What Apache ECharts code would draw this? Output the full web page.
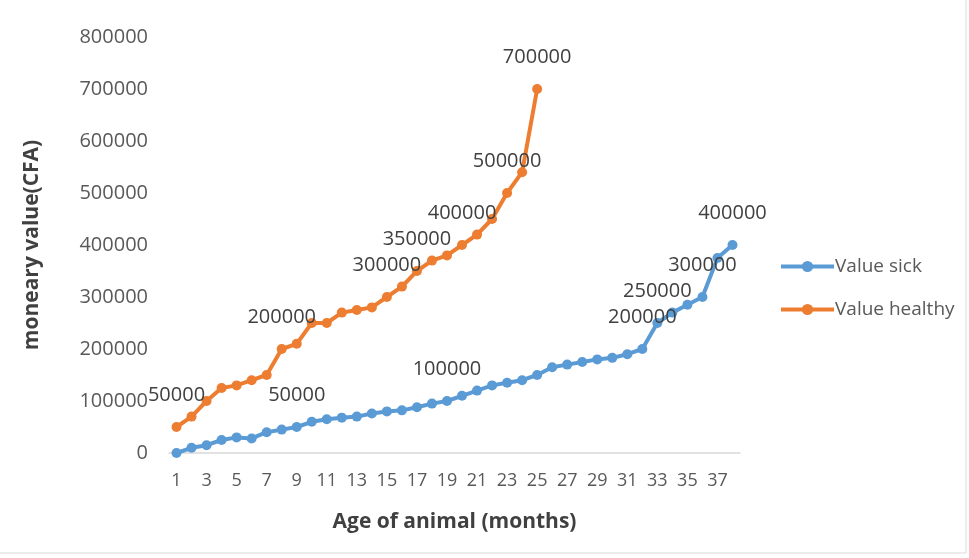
<!DOCTYPE html>
<html>
<head>
<meta charset="utf-8">
<script src="https://cdn.jsdelivr.net/npm/echarts@6/dist/echarts.min.js"></script>
<style>
html,body{margin:0;padding:0;background:#fff;}
#c{width:969px;height:558px;}
</style>
</head>
<body>
<div id="c"></div>
<script>
// Months 1..38
const months = [1,2,3,4,5,6,7,8,9,10,11,12,13,14,15,16,17,18,19,20,21,22,23,24,25,26,27,28,29,30,31,32,33,34,35,36,37,38];
const valueSick = [0,10000,15000,25000,30000,28000,40000,45000,50000,60000,65000,68000,70000,76000,80000,82000,88000,95000,100000,110000,120000,130000,135000,140000,150000,165000,170000,175000,180000,183000,190000,200000,250000,270000,285000,300000,375000,400000];
const valueHealthy = [50000,70000,100000,125000,130000,140000,150000,200000,210000,250000,250000,270000,275000,280000,300000,320000,350000,370000,380000,400000,420000,450000,500000,540000,700000];
// months whose point carries a data label
const sickLabelMonths = [9,19,32,33,36,38];
const healthyLabelMonths = [1,8,15,17,20,23,25];
const yTicks = [0,100000,200000,300000,400000,500000,600000,700000,800000];

const FONT = '"Open Sans", "Noto Sans", sans-serif';
function withLabels(vals, labelMonths){
  return vals.map((v,i)=> labelMonths.includes(months[i]) ? {value:v, label:{show:true}} : v);
}
const chart = echarts.init(document.getElementById('c'));
chart.setOption({
  animation:false,
  textStyle:{fontFamily:FONT},
  color:['#5B9BD5','#ED7D31'],
  graphic:[
    {type:'line', shape:{x1:966,y1:0,x2:966,y2:553}, style:{stroke:'#d9d9d9',lineWidth:1}},
    {type:'line', shape:{x1:0,y1:553,x2:966,y2:553}, style:{stroke:'#d9d9d9',lineWidth:1}}
  ],
  grid:{left:169, right:229, top:37, bottom:105, containLabel:false},
  legend:{
    orient:'vertical', left:779, top:257, padding:0, itemWidth:53, itemHeight:14, itemGap:24,
    textStyle:{fontSize:19, color:'#595959', fontFamily:FONT, padding:[0,0,0,-4]},
    lineStyle:{width:4},
    data:['Value sick','Value healthy']
  },
  xAxis:{
    type:'category', data:months, boundaryGap:true,
    name:'Age of animal (months)', nameLocation:'middle', nameGap:59,
    nameTextStyle:{fontSize:21, fontWeight:'bold', color:'#404040', fontFamily:FONT},
    axisLine:{show:true, lineStyle:{color:'#d9d9d9', width:1.5}},
    axisTick:{show:false},
    axisLabel:{interval:1, fontSize:18, color:'#595959', margin:19, fontFamily:FONT},
    splitLine:{show:false}
  },
  yAxis:{
    type:'value', min:yTicks[0], max:yTicks[yTicks.length-1], interval:yTicks[1]-yTicks[0],
    name:'moneary value(CFA)', nameLocation:'middle', nameGap:126, nameRotate:90,
    nameTextStyle:{fontSize:21, fontWeight:'bold', color:'#404040', fontFamily:FONT},
    axisLine:{show:false}, axisTick:{show:false},
    axisLabel:{fontSize:20, color:'#595959', margin:21, fontFamily:FONT, formatter:(v)=>String(v)},
    splitLine:{show:false}
  },
  series:[
    {name:'Value sick', type:'line', data:withLabels(valueSick, sickLabelMonths),
     symbol:'circle', symbolSize:10, lineStyle:{width:4}, itemStyle:{color:'#5B9BD5'},
     label:{show:false, position:'top', distance:17, fontSize:20, color:'#404040', fontFamily:FONT}},
    {name:'Value healthy', type:'line', data:withLabels(valueHealthy, healthyLabelMonths),
     symbol:'circle', symbolSize:10, lineStyle:{width:4}, itemStyle:{color:'#ED7D31'},
     label:{show:false, position:'top', distance:17, fontSize:20, color:'#404040', fontFamily:FONT}}
  ]
});
</script>
</body>
</html>
